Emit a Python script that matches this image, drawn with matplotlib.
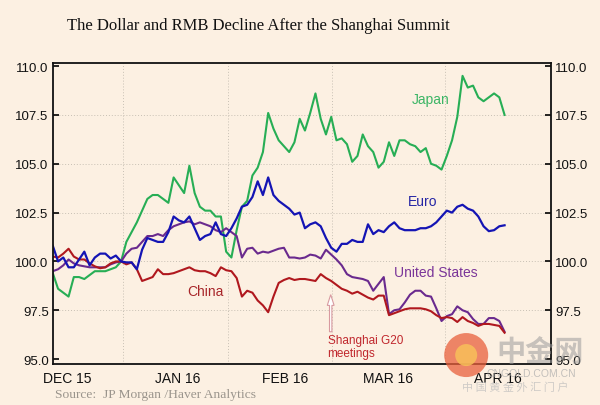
import matplotlib.pyplot as plt
import numpy as np
from matplotlib.patches import FancyArrow, Ellipse

plt.rcParams['font.family'] = ['Liberation Sans', 'DejaVu Sans']

# business-day index, mid Dec 2015 .. mid Apr 2016 (Dec 11 2015 = 100)
japan = [99.4, 98.6, 98.4, 98.2, 99.2, 99.2, 99.1, 99.3, 99.5, 99.5,
         99.5, 99.6, 99.7, 100.0, 101.0, 101.5, 102.0, 102.6, 103.2, 103.4,
         103.4, 103.2, 103.0, 104.3, 103.9, 103.5, 104.9, 103.5, 102.8, 102.6,
         102.6, 102.3, 102.3, 100.5, 100.2, 101.6, 102.8, 103.1, 104.4, 104.8,
         105.6, 107.6, 106.8, 106.2, 105.9, 105.6, 106.1, 107.3, 106.7, 107.6,
         108.6, 107.3, 106.5, 107.4, 106.2, 106.3, 106.0, 105.1, 105.4, 106.5,
         105.9, 105.6, 104.8, 105.1, 106.1, 105.4, 106.2, 106.2, 106.0, 105.9,
         105.6, 105.8, 105.0, 104.9, 104.7, 105.4, 106.2, 107.4, 109.5, 108.9,
         109.0, 108.4, 108.2, 108.4, 108.6, 108.4, 107.5]
euro = [100.8, 100.0, 100.2, 99.7, 99.7, 100.1, 100.5, 99.8, 100.2, 100.4,
        100.4, 100.15, 100.3, 100.0, 99.95, 99.95, 99.6, 100.6, 101.2, 101.1,
        101.0, 101.0, 101.5, 102.3, 102.1, 102.0, 102.3, 101.7, 101.1, 101.3,
        101.4, 102.0, 101.4, 101.3, 101.7, 102.2, 102.8, 102.9, 103.3, 104.1,
        103.4, 104.3, 103.4, 103.1, 102.9, 102.7, 102.4, 102.5, 101.7, 101.9,
        102.0, 101.8, 101.2, 100.7, 100.5, 100.9, 100.9, 101.1, 101.0, 101.0,
        101.9, 101.4, 101.6, 101.5, 101.8, 102.0, 101.7, 101.6, 101.6, 101.6,
        101.7, 101.7, 101.8, 102.0, 102.3, 102.6, 102.5, 102.8, 102.9, 102.7,
        102.6, 102.3, 101.8, 101.55, 101.6, 101.8, 101.85]
us = [99.5, 99.6, 99.8, 100.1, 99.9, 99.8, 99.75, 99.7, 99.7, 99.7,
      99.7, 99.85, 99.95, 100.0, 100.4, 100.65, 100.7, 101.0, 101.3, 101.3,
      101.4, 101.3, 101.6, 101.8, 101.9, 102.0, 102.05, 101.9, 102.0, 101.9,
      101.8, 101.6, 101.5, 101.7, 101.5, 101.3, 100.2, 100.65, 100.7, 100.4,
      100.5, 100.45, 100.55, 100.65, 100.7, 100.2, 100.2, 100.15, 100.2, 100.35,
      100.3, 100.15, 100.6, 100.35, 100.1, 99.8, 99.35, 99.2, 99.15, 99.1,
      99.0, 98.5, 98.85, 99.2, 97.3, 97.5, 97.55, 97.9, 98.3, 98.5,
      98.5, 98.25, 98.2, 97.6, 96.95, 97.2, 97.3, 97.7, 97.5, 97.4,
      97.05, 96.8, 96.8, 97.1, 97.1, 96.95, 96.4]
china = [100.25, 100.2, 100.4, 100.65, 100.25, 100.1, 100.1, 99.9, 99.75, 99.65,
         99.7, 99.9, 100.0, 100.0, 99.85, 99.95, 99.6, 99.0, 99.1, 99.2,
         99.6, 99.35, 99.35, 99.4, 99.5, 99.6, 99.7, 99.55, 99.5, 99.5,
         99.4, 99.25, 99.7, 99.55, 99.5, 99.15, 98.2, 98.5, 98.4, 98.0,
         97.75, 97.4, 98.2, 98.9, 99.05, 99.15, 99.05, 99.1, 99.1, 99.05,
         99.0, 99.35, 99.15, 99.0, 98.8, 98.6, 98.5, 98.35, 98.45, 98.3,
         98.15, 98.05, 98.25, 98.25, 97.25, 97.35, 97.45, 97.55, 97.6, 97.6,
         97.6, 97.55, 97.45, 97.25, 97.1, 97.15, 97.1, 96.9, 97.15, 96.95,
         96.85, 96.7, 96.8, 96.8, 96.75, 96.7, 96.35]

month_starts = [13.4, 33.4, 53.2, 74.6]
month_mid = [2.7, 23.7, 44.3, 63.9, 84.7]
month_labels = ['DEC 15', 'JAN 16', 'FEB 16', 'MAR 16', 'APR 16']
yticks = [95.0, 97.5, 100.0, 102.5, 105.0, 107.5, 110.0]

bg = '#fcf0e2'
fig = plt.figure(figsize=(6, 4.06), dpi=100, facecolor=bg)
ax = fig.add_axes([0.088, 0.101, 0.83, 0.741], facecolor=bg)

x = np.arange(len(japan))
ax.plot(x, japan, color='#27ae55', lw=1.5)
ax.plot(x, us, color='#6a2a8e', lw=1.5)
ax.plot(x, china, color='#b0181e', lw=1.5)
ax.plot(x, euro, color='#1414b4', lw=1.6)

ax.set_xlim(0, 94.8)
ax.set_ylim(94.75, 110.15)

for g in month_starts:
    ax.axvline(g, color='#c8c0b4', lw=0.7, ls=(0, (1, 2)), zorder=0)
for t in yticks[1:-1]:
    ax.axhline(t, color='#c8c0b4', lw=0.7, ls=(0, (1, 2)), zorder=0)

ax.set_yticks(yticks)
ax.set_yticklabels(['%.1f' % t for t in yticks])
ax.set_xticks(month_mid)
ax.set_xticklabels(month_labels)
ax.tick_params(axis='x', length=0, pad=5, labelsize=10, labelcolor='#111111')
ax.tick_params(axis='y', direction='in', length=4, width=1.2, pad=3,
               labelsize=9.5, labelcolor='#111111', right=True, labelright=True)
for s in ax.spines.values():
    s.set_linewidth(1.3)
    s.set_color('#111111')

ax.text(72, 108.3, 'Japan', color='#3cb565', fontsize=10, ha='center', va='center')
ax.text(70.4, 103.1, 'Euro', color='#2525a5', fontsize=10, ha='center', va='center')
ax.text(72.9, 99.45, 'United States', color='#7a3599', fontsize=10, ha='center', va='center')
ax.text(29, 98.5, 'China', color='#a8262a', fontsize=10, ha='center', va='center')
ax.text(52.3, 95.65, 'Shanghai G20\nmeetings', color='#c0272d', fontsize=8.5,
        ha='left', va='center', linespacing=1.05)
ax.add_patch(FancyArrow(52.9, 96.4, 0, 1.9, width=0.45, head_width=1.3,
                        head_length=0.55, fc='white', ec='#d89aa0', lw=0.8,
                        length_includes_head=True))

fig.text(0.112, 0.935, 'The Dollar and RMB Decline After the Shanghai Summit',
         family='Liberation Serif', fontsize=12, color='#111111', va='center')
fig.text(0.092, 0.027, 'Source:  JP Morgan /Haver Analytics',
         family='Liberation Serif', fontsize=9.7, color='#9a948c', va='center')

# watermark
fig.patches.append(Ellipse((0.777, 0.123), 44 / 600, 44 / 406, transform=fig.transFigure,
                           fc='#e8603c', ec='none', alpha=0.75))
fig.patches.append(Ellipse((0.777, 0.123), 22 / 600, 22 / 406, transform=fig.transFigure,
                           fc='#f8c05a', ec='none', alpha=0.85))
fig.text(0.9, 0.133, '中金网', family=['Noto Sans CJK SC', 'DejaVu Sans'],
         fontsize=21, color='#9c9c9c', alpha=0.55, ha='center', va='center',
         fontweight='bold')
fig.text(0.885, 0.079, 'CNGOLD.COM.CN', fontsize=7.5, color='#aaaaaa',
         alpha=0.7, ha='center', va='center')
fig.text(0.858, 0.045, '中 国 黄 金 外 汇 门 户', family=['Noto Sans CJK SC', 'DejaVu Sans'],
         fontsize=8, color='#bbbbbb', alpha=0.7, ha='center', va='center')

fig.savefig('out.png', dpi=100, facecolor=bg)
